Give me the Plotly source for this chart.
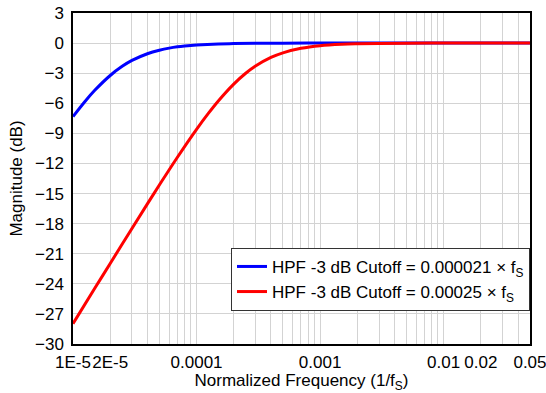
import plotly.graph_objects as go

# Normalized frequency (1/fS) and magnitude (dB)
freq_blue = [1e-5, 1.25e-5, 1.5e-5, 2e-5, 2.5e-5, 3e-5, 4e-5, 5e-5, 6e-5, 7e-5, 8e-5,
             1e-4, 1.5e-4, 2e-4, 3e-4, 5e-4, 1e-3, 2e-3, 5e-3, 1e-2, 2e-2, 5e-2]
mag_blue = [-7.33, -5.82, -4.71, -3.23, -2.32, -1.73, -1.06, -0.71, -0.50, -0.37, -0.29,
            -0.19, -0.08, -0.05, -0.02, -0.01, 0.0, 0.0, 0.0, 0.0, 0.0, 0.0]

freq_red = [1e-5, 1.5e-5, 2e-5, 3e-5, 4e-5, 5e-5, 7e-5, 1e-4, 1.25e-4, 1.5e-4, 2e-4,
            2.5e-4, 3e-4, 4e-4, 5e-4, 7e-4, 1e-3, 1.5e-3, 2e-3, 3e-3, 5e-3, 1e-2, 2e-2, 5e-2]
mag_red = [-27.97, -24.45, -21.97, -18.48, -16.03, -14.15, -11.38, -8.60, -6.99, -5.77, -4.09,
           -3.01, -2.29, -1.43, -0.97, -0.52, -0.26, -0.12, -0.07, -0.03, -0.01, 0.0, 0.0, 0.0]

x_labels = {1e-5: "1E-5", 2e-5: "2E-5", 1e-4: "0.0001", 1e-3: "0.001",
            1e-2: "0.01", 2e-2: "0.02", 5e-2: "0.05"}

# gridlines at every 1..9 multiple of each decade
grid_vals = []
for dec in [1e-5, 1e-4, 1e-3, 1e-2]:
    for m in range(1, 10):
        v = round(m * dec, 10)
        if v <= 0.05 + 1e-12:
            grid_vals.append(v)
grid_text = [x_labels.get(v, "") for v in grid_vals]

fig = go.Figure()
fig.add_trace(go.Scatter(x=freq_blue, y=mag_blue, mode="lines", line_shape="spline",
                         name="HPF -3 dB Cutoff = 0.000021 \u00d7 f<sub>S</sub>",
                         line=dict(color="#0000ff", width=3)))
fig.add_trace(go.Scatter(x=freq_red, y=mag_red, mode="lines", line_shape="spline",
                         name="HPF -3 dB Cutoff = 0.00025 \u00d7 f<sub>S</sub>",
                         line=dict(color="#ff0000", width=3)))

fig.update_layout(
    width=546, height=393,
    margin=dict(l=73, r=16, t=13, b=49, autoexpand=False),
    plot_bgcolor="white", paper_bgcolor="white",
    font=dict(family="Liberation Sans, Arial, sans-serif", size=17, color="black"),
    legend=dict(x=1, y=0.1, xanchor="right", yanchor="bottom",
                bgcolor="white", bordercolor="#333333", borderwidth=1,
                font=dict(size=17), tracegroupgap=0, itemwidth=30),
    showlegend=True,
)

fig.update_xaxes(
    type="log", range=[-5.0001, -1.3009], automargin=False,
    tickvals=grid_vals, ticktext=grid_text, tickangle=0, ticklabeloverflow="allow",
    showgrid=True, gridcolor="#d3d3d3", gridwidth=1,
    showline=True, linecolor="black", linewidth=1.5, mirror=True,
    ticks="", tickfont=dict(size=17), ticklabelstandoff=2,
    title=dict(text="Normalized Frequency (1/f<sub>S</sub>)", font=dict(size=17), standoff=3),
    zeroline=False,
)
fig.update_yaxes(
    range=[-30, 3], tickvals=list(range(-30, 4, 3)), automargin=False,
    showgrid=True, gridcolor="#d3d3d3", gridwidth=1,
    showline=True, linecolor="black", linewidth=1.5, mirror=True,
    ticks="", tickfont=dict(size=17), ticklabelstandoff=4,
    title=dict(text="Magnitude (dB)", font=dict(size=17), standoff=8),
    zeroline=False,
)

# drop the default 8px page margin so the figure sits at the window origin
fig.write_html("out.html", config={"displayModeBar": False},
               post_script="document.body.style.margin = '0';")
